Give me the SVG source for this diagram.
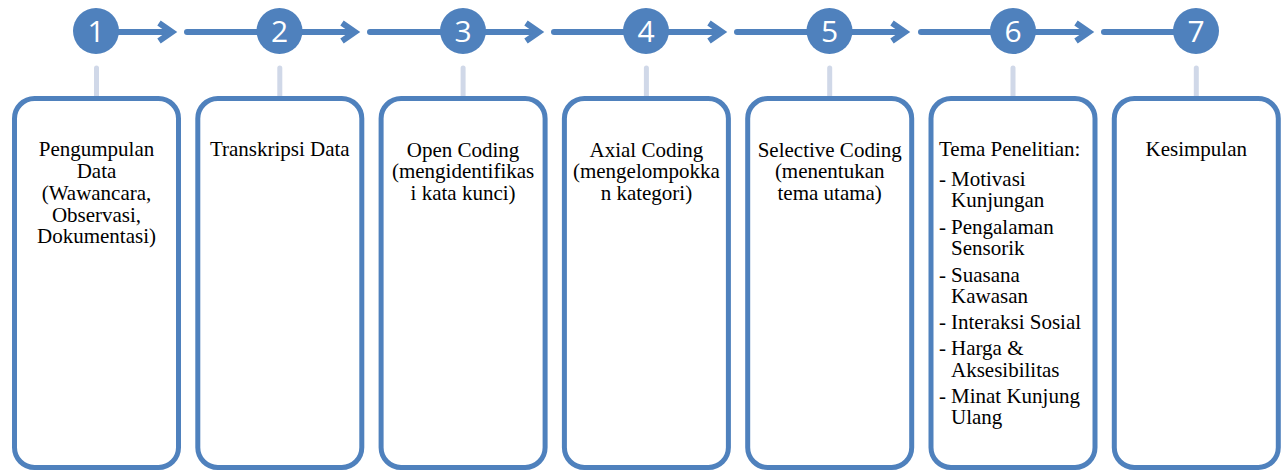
<svg xmlns="http://www.w3.org/2000/svg" width="1286" height="470" viewBox="0 0 1286 470">
<style>
.box{fill:#fff;stroke:#4F81BD;stroke-width:5}
.vc{stroke:#D0D8E8;stroke-width:5;stroke-linecap:round}
.ln{stroke:#4F81BD;stroke-width:6;fill:none}
.ch{stroke:#4F81BD;stroke-width:6;fill:none;stroke-linejoin:miter}
.dot{fill:#4F81BD}
.num{font-family:'Open Sans','Liberation Sans',sans-serif;font-size:30px;fill:#fff;text-anchor:middle}
.c{text-anchor:middle}
</style>
<g id="connectors">
<line class="ln" x1="187" y1="32" x2="279" y2="32" stroke-linecap="round"/>
<line class="ln" x1="370" y1="32" x2="463" y2="32" stroke-linecap="round"/>
<line class="ln" x1="554" y1="32" x2="646" y2="32" stroke-linecap="round"/>
<line class="ln" x1="737" y1="32" x2="829" y2="32" stroke-linecap="round"/>
<line class="ln" x1="921" y1="32" x2="1013" y2="32" stroke-linecap="round"/>
<line class="ln" x1="1104" y1="32" x2="1196" y2="32" stroke-linecap="round"/>
<line class="ln" x1="96" y1="32" x2="171" y2="32"/>
<polyline class="ch" points="159,23 172,32 159,41"/>
<line class="ln" x1="279" y1="32" x2="354" y2="32"/>
<polyline class="ch" points="342,23 355,32 342,41"/>
<line class="ln" x1="463" y1="32" x2="538" y2="32"/>
<polyline class="ch" points="526,23 539,32 526,41"/>
<line class="ln" x1="646" y1="32" x2="721" y2="32"/>
<polyline class="ch" points="709,23 722,32 709,41"/>
<line class="ln" x1="829" y1="32" x2="904" y2="32"/>
<polyline class="ch" points="892,23 905,32 892,41"/>
<line class="ln" x1="1013" y1="32" x2="1088" y2="32"/>
<polyline class="ch" points="1076,23 1089,32 1076,41"/>
<line class="vc" x1="96.5" y1="68" x2="96.5" y2="97"/>
<line class="vc" x1="279.8" y1="68" x2="279.8" y2="97"/>
<line class="vc" x1="463.1" y1="68" x2="463.1" y2="97"/>
<line class="vc" x1="646.4" y1="68" x2="646.4" y2="97"/>
<line class="vc" x1="829.7" y1="68" x2="829.7" y2="97"/>
<line class="vc" x1="1013" y1="68" x2="1013" y2="97"/>
<line class="vc" x1="1196.3" y1="68" x2="1196.3" y2="97"/>
</g>
<g font-family="'Liberation Serif', 'Times New Roman', Tinos, serif" font-size="21" fill="#000">
<g id="step1">
<circle class="dot" cx="96" cy="31" r="23"/><text class="num" x="96" y="42">1</text>
<rect class="box" x="14.5" y="98.5" width="164" height="369" rx="20"/>
<text class="c" x="96.5" y="156">Pengumpulan</text>
<text class="c" x="96.5" y="178">Data</text>
<text class="c" x="96.5" y="200">(Wawancara,</text>
<text class="c" x="96.5" y="222">Observasi,</text>
<text class="c" x="96.5" y="243">Dokumentasi)</text>
</g>
<g id="step2">
<circle class="dot" cx="279.5" cy="31" r="23"/><text class="num" x="279.5" y="42">2</text>
<rect class="box" x="197.8" y="98.5" width="164" height="369" rx="20"/>
<text class="c" x="279.8" y="156">Transkripsi Data</text>
</g>
<g id="step3">
<circle class="dot" cx="463" cy="31" r="23"/><text class="num" x="463" y="42">3</text>
<rect class="box" x="381.1" y="98.5" width="164" height="369" rx="20"/>
<text class="c" x="463.1" y="157">Open Coding</text>
<text class="c" x="463.1" y="178">(mengidentifikas</text>
<text class="c" x="463.1" y="200">i kata kunci)</text>
</g>
<g id="step4">
<circle class="dot" cx="646" cy="31" r="23"/><text class="num" x="646" y="42">4</text>
<rect class="box" x="564.4" y="98.5" width="164" height="369" rx="20"/>
<text class="c" x="646.4" y="157">Axial Coding</text>
<text class="c" x="646.4" y="178">(mengelompokka</text>
<text class="c" x="646.4" y="200">n kategori)</text>
</g>
<g id="step5">
<circle class="dot" cx="829.5" cy="31" r="23"/><text class="num" x="829.5" y="42">5</text>
<rect class="box" x="747.7" y="98.5" width="164" height="369" rx="20"/>
<text class="c" x="829.7" y="157">Selective Coding</text>
<text class="c" x="829.7" y="178">(menentukan</text>
<text class="c" x="829.7" y="200">tema utama)</text>
</g>
<g id="step6">
<circle class="dot" cx="1013" cy="31" r="23"/><text class="num" x="1013" y="42">6</text>
<rect class="box" x="931" y="98.5" width="164" height="369" rx="20"/>
<text x="939" y="156">Tema Penelitian:</text>
<text x="939" y="186">-</text><text x="951" y="186">Motivasi</text>
<text x="951" y="207">Kunjungan</text>
<text x="939" y="234">-</text><text x="951" y="234">Pengalaman</text>
<text x="951" y="255">Sensorik</text>
<text x="939" y="282">-</text><text x="951" y="282">Suasana</text>
<text x="951" y="303">Kawasan</text>
<text x="939" y="329">-</text><text x="951" y="329">Interaksi Sosial</text>
<text x="939" y="355">-</text><text x="951" y="355">Harga &amp;</text>
<text x="951" y="377">Aksesibilitas</text>
<text x="939" y="403">-</text><text x="951" y="403">Minat Kunjung</text>
<text x="951" y="424">Ulang</text>
</g>
<g id="step7">
<circle class="dot" cx="1196" cy="31" r="23"/><text class="num" x="1196" y="42">7</text>
<rect class="box" x="1114.3" y="98.5" width="164" height="369" rx="20"/>
<text class="c" x="1196.3" y="156">Kesimpulan</text>
</g>
</g>
</svg>
